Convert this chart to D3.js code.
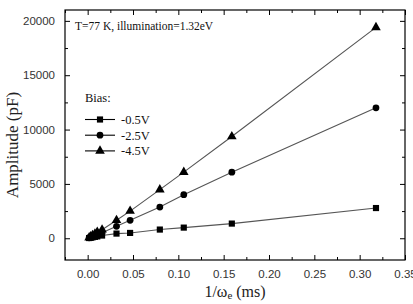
<!DOCTYPE html>
<html><head><meta charset="utf-8">
<script src="https://cdn.jsdelivr.net/npm/d3@7/dist/d3.min.js"></script>
<style>body{margin:0;background:#fff}svg{display:block}</style>
</head><body>
<svg id="c" width="413" height="304"></svg>
<script>
const xValues = [0.0016, 0.0032, 0.0053, 0.0080, 0.0106, 0.0159, 0.0318, 0.0468, 0.0796, 0.106, 0.159, 0.318];
const biasM45 = [60, 150, 280, 420, 580, 780, 1650, 2500, 4470, 6080, 9360, 19400];
const biasM25 = [40, 100, 190, 280, 380, 500, 1100, 1650, 2870, 4010, 6080, 12000];
const biasM05 = [20, 50, 80, 130, 170, 250, 430, 490, 800, 980, 1350, 2780];
const seriesNames = ["-0.5V", "-2.5V", "-4.5V"];
const xTicks = [0.00, 0.05, 0.10, 0.15, 0.20, 0.25, 0.30, 0.35];
const yTicks = [0, 5000, 10000, 15000, 20000];

(function(){
const svg = d3.select("#c");
const L = 65, R = 405, T = 10, B = 260;
const x = d3.scaleLinear().domain([-0.025, 0.35]).range([L, R]);
const y = d3.scaleLinear().domain([-2000, 21000]).range([B, T]);

const series = [
  {name: seriesNames[0], vals: biasM05, sym: d3.symbolSquare, size: 38},
  {name: seriesNames[1], vals: biasM25, sym: d3.symbolCircle, size: 36},
  {name: seriesNames[2], vals: biasM45, sym: d3.symbolTriangle, size: 40}
];

svg.append("rect").attr("x", L).attr("y", T).attr("width", R - L).attr("height", B - T)
  .attr("fill", "none").attr("stroke", "#000").attr("stroke-width", 1.2);

const xMinor = d3.range(-0.025, 0.351, 0.025).map(v => +v.toFixed(3)).filter(v => !xTicks.some(t => Math.abs(t - v) < 1e-6));
const yMinor = [2500, 7500, 12500, 17500];

const gBot = svg.append("g").attr("transform", `translate(0,${B})`)
  .call(d3.axisBottom(x).tickValues(xTicks).tickSizeInner(-5).tickSizeOuter(0).tickPadding(10).tickFormat(d3.format(".2f")));
gBot.append("g").call(d3.axisBottom(x).tickValues(xMinor).tickSizeInner(-3).tickSizeOuter(0).tickFormat(""));
const gTop = svg.append("g").attr("transform", `translate(0,${T})`)
  .call(d3.axisTop(x).tickValues(xTicks).tickSizeInner(-5).tickSizeOuter(0).tickFormat(""));
gTop.append("g").call(d3.axisTop(x).tickValues(xMinor).tickSizeInner(-3).tickSizeOuter(0).tickFormat(""));
const gLeft = svg.append("g").attr("transform", `translate(${L},0)`)
  .call(d3.axisLeft(y).tickValues(yTicks).tickSizeInner(-5).tickSizeOuter(0).tickPadding(10).tickFormat(d3.format("d")));
gLeft.append("g").call(d3.axisLeft(y).tickValues(yMinor).tickSizeInner(-3).tickSizeOuter(0).tickFormat(""));
const gRight = svg.append("g").attr("transform", `translate(${R},0)`)
  .call(d3.axisRight(y).tickValues(yTicks).tickSizeInner(-5).tickSizeOuter(0).tickFormat(""));
gRight.append("g").call(d3.axisRight(y).tickValues(yMinor).tickSizeInner(-3).tickSizeOuter(0).tickFormat(""));

svg.selectAll(".domain").remove();
svg.selectAll(".tick line").attr("stroke", "#000").attr("stroke-width", 1);
svg.selectAll(".tick text").attr("font-family", "Liberation Sans, Arial, sans-serif")
  .attr("font-size", 11.5).attr("fill", "#333");

const line = d3.line().x(d => x(d[0])).y(d => y(d[1]));
series.forEach(s => {
  const pts = xValues.map((xv, i) => [xv, s.vals[i]]);
  svg.append("path").datum(pts).attr("d", line).attr("fill", "none").attr("stroke", "#555").attr("stroke-width", 1.1);
  svg.append("g").selectAll("path").data(pts).join("path")
    .attr("transform", d => `translate(${x(d[0])},${y(d[1])})`)
    .attr("d", d3.symbol().type(s.sym).size(s.size)).attr("fill", "#000");
});

svg.append("text").attr("x", 75).attr("y", 30).attr("font-family", "Liberation Serif, Times New Roman, serif")
  .attr("font-size", 11.5).attr("fill", "#111").text("T=77 K, illumination=1.32eV");

const lg = svg.append("g").attr("font-family", "Liberation Serif, Times New Roman, serif").attr("font-size", 12.5).attr("fill", "#111");
lg.append("text").attr("x", 85).attr("y", 102).text("Bias:");
series.forEach((s, i) => {
  const yy = 119.5 + i * 15.7;
  lg.append("line").attr("x1", 85).attr("x2", 115).attr("y1", yy).attr("y2", yy).attr("stroke", "#000").attr("stroke-width", 1.1);
  lg.append("path").attr("transform", `translate(100,${yy})`).attr("d", d3.symbol().type(s.sym).size(s.size)).attr("fill", "#000");
  lg.append("text").attr("x", 121).attr("y", yy + 4.3).text(s.name);
});

svg.append("text").attr("transform", "translate(18,145) rotate(-90)").attr("text-anchor", "middle")
  .attr("font-family", "Liberation Serif, Times New Roman, serif").attr("font-size", 17).attr("fill", "#222")
  .text("Amplitude (pF)");
const xt = svg.append("text").attr("x", 235).attr("y", 297).attr("text-anchor", "middle")
  .attr("font-family", "Liberation Serif, Times New Roman, serif").attr("font-size", 16).attr("fill", "#222");
xt.append("tspan").text("1/ω");
xt.append("tspan").attr("font-size", 11).attr("dy", 2).text("e");
xt.append("tspan").attr("dy", -2).text(" (ms)");
})();
</script>
</body></html>
